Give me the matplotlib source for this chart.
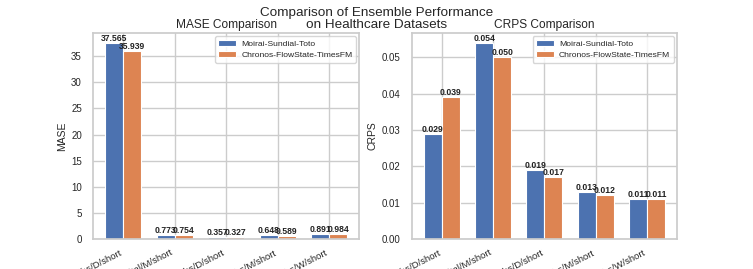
import matplotlib
matplotlib.use("Agg")
import matplotlib.pyplot as plt
import numpy as np
import seaborn as sns

categories = ["covid_deaths/D/short", "hospital/M/short", "us_births/D/short",
              "us_births/M/short", "us_births/W/short"]
series_names = ["Moirai-Sundial-Toto", "Chronos-FlowState-TimesFM"]
mase_a = [37.565, 0.773, 0.357, 0.648, 0.891]
mase_b = [35.939, 0.754, 0.327, 0.589, 0.984]
crps_a = [0.029, 0.054, 0.019, 0.013, 0.011]
crps_b = [0.039, 0.050, 0.017, 0.012, 0.011]

sns.set_theme(style="whitegrid")
plt.rcParams['font.family'] = ['Liberation Sans', 'DejaVu Sans']

colors = ["#4c72b0", "#dd8452"]
fig = plt.figure(figsize=(7.53, 2.69), dpi=100)
ax1 = fig.add_axes([0.1235, 0.112, 0.3535, 0.765])
ax2 = fig.add_axes([0.547, 0.112, 0.352, 0.765])

x = np.arange(len(categories))
w = 0.35

def draw(ax, a, b, title, ylabel, fmt):
    r1 = ax.bar(x - w / 2, a, w, color=colors[0], edgecolor="white", linewidth=0.8, label=series_names[0])
    r2 = ax.bar(x + w / 2, b, w, color=colors[1], edgecolor="white", linewidth=0.8, label=series_names[1])
    for rects in (r1, r2):
        for r in rects:
            h = r.get_height()
            ax.text(r.get_x() + r.get_width() / 2, h, fmt.format(h), ha="center", va="bottom",
                    fontsize=6.2, fontweight="bold", color="#222222")
    ax.set_title(title, fontsize=8.6, pad=4)
    ax.set_ylabel(ylabel, fontsize=7.5, labelpad=3)
    ax.set_xticks(x)
    ax.set_xticklabels(categories, rotation=27, ha="right", fontsize=6.8)
    ax.tick_params(axis="y", labelsize=7, pad=2)
    ax.tick_params(axis="x", pad=0.5)
    ax.legend(fontsize=6.1, loc="upper right", handlelength=2.1, borderpad=0.4,
              labelspacing=0.4, borderaxespad=0.4, handletextpad=0.6)

draw(ax1, mase_a, mase_b, "MASE Comparison", "MASE", "{:.3f}")
draw(ax2, crps_a, crps_b, "CRPS Comparison", "CRPS", "{:.3f}")

fig.suptitle("Comparison of Ensemble Performance\non Healthcare Datasets", fontsize=9.7, y=0.975, linespacing=1.0)

fig.savefig("out.png", dpi=100)
